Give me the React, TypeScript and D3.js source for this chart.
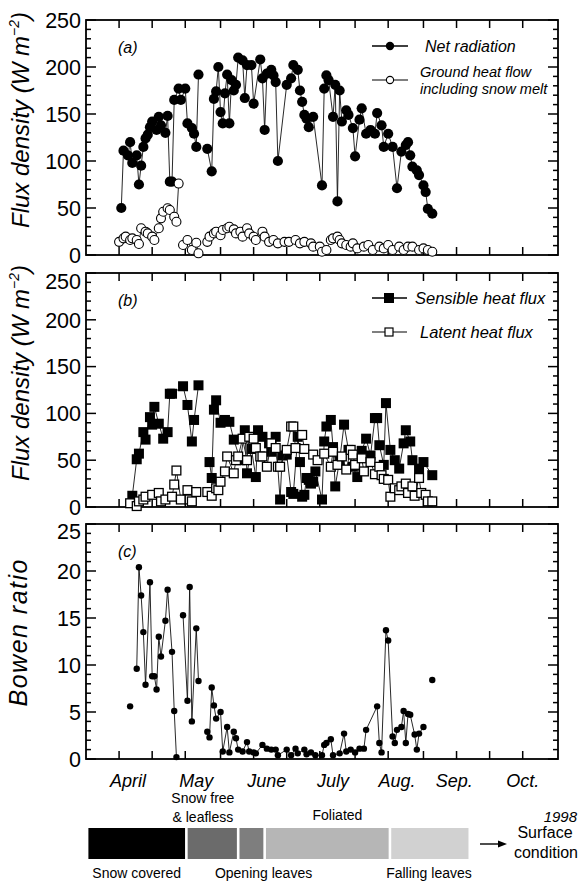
import * as d3 from "d3";

// day of year (1998) -> value; null = break in the record
type Pt = [number, number] | null;

const netRadiation: Pt[] = [
  [107, 50], [108, 111], [110, 106], [111, 120], [112, 98], [114, 106], [115, 75], [116, 95], [117, 115], [118, 124],
  [119, 128], [120, 136], [121, 142], [123, 133], [124, 147], [125, 138], [127, 130], [128, 148], [129, 78], [130, 78],
  [131, 165], [133, 177], [134, 165], [136, 177], [137, 140], [139, 135], [140, 129], [141, 115], [142, 192], null,
  [146, 113], [148, 89], [149, 166], [150, 174], [151, 200], [152, 152], [153, 140], [154, 172], [155, 192], [156, 140],
  [157, 186], [158, 175], [159, 181], [160, 210], [162, 207], [163, 167], [164, 202], [166, 202], [167, 161], [170, 208],
  [171, 188], [172, 133], [173, 193], [175, 197], [176, 191], [177, 184], [178, 100], [182, 181], [184, 188], [185, 202],
  [187, 197], [188, 175], [189, 163], [190, 149], [191, 145], [192, 136], [194, 147], [198, 74], [199, 177], [200, 191],
  [201, 186], [203, 147], [204, 181], [205, 57], [206, 175], [207, 142], [209, 154], [210, 149], [212, 135], [213, 105],
  [215, 144], [216, 156], [218, 129], [220, 133], [222, 129], [223, 151], [225, 138], [226, 115], [228, 129], [230, 115],
  [232, 71], [234, 110], [236, 117], [237, 120], [238, 106], [239, 94], [241, 90], [242, 85], [244, 74], [245, 67],
  [246, 49], [248, 44],
];

const groundHeat: Pt[] = [
  [106, 14], [108, 17.7], [109, 19.5], [111, 16], [112, 17.7], [114, 16], [115, 11.7], [116, 28.4], [118, 24.8], [119, 23],
  [121, 19.5], [122, 16], [124, 28.4], [125, 39], [126, 46], [128, 49.7], [129, 47.9], [131, 40.7], [132, 35.4], [133, 76], null,
  [135, 10.6], [137, 16], [139, 5.3], [141, 13], [142, 1.8], null,
  [146, 14], [147, 19.5], [149, 23], [150, 24.8], [152, 21], [153, 26.6], [155, 28.4], [156, 30], [158, 27.3], [159, 23],
  [161, 24.8], [162, 19.5], [164, 28.4], [165, 23], [167, 19.5], [168, 16], [171, 24.8], [172, 19.5], [174, 14], [176, 16],
  [178, 12.4], [181, 14], [183, 14], [186, 16], [188, 12.4], [190, 14], [193, 12.4], [194, 8.9], [197, 8.9], [198, 3.5],
  [200, 5.3], [202, 16], [203, 17.7], [205, 19.5], [206, 16], [207, 12.4], [209, 10.6], [211, 8.9], [212, 12.4], [214, 7],
  [217, 8.9], [219, 10.6], [221, 5.3], [224, 8.9], [226, 7], [228, 10.6], [230, 5.3], [233, 8.9], [235, 5.3], [237, 8.9],
  [239, 8.9], [242, 5.3], [244, 7], [246, 5.3], [248, 3.5],
];

const sensibleHeat: Pt[] = [
  [112, 12], [114, 51], [115, 57], [117, 80], [118, 72], [120, 96], [121, 88], [122, 107], [124, 89], [126, 73],
  [128, 80], [129, 121], [130, 121], [135, 129], [137, 109], [139, 70], [140, 93], [142, 130], null,
  [147, 48], [148, 31], [149, 104], [150, 114], [152, 90], [154, 93], [156, 91], [158, 72], [161, 50], [163, 82],
  [164, 36], [166, 62], [168, 32], [169, 82], [171, 75], [174, 68], [175, 59], [177, 75], [179, 8], [180, 55],
  [182, 56], [184, 16], [185, 14], [187, 75], [188, 48], [189, 11], [190, 13], [191, 31], [192, 29], [193, 25],
  [194, 27], [195, 38], [198, 8], [199, 70], [200, 86], [202, 93], [203, 64], [204, 22], [206, 50], [208, 88],
  [210, 61], [212, 43], [214, 32], [216, 60], [218, 73], [220, 55], [222, 95], [223, 95], [224, 66], [226, 45],
  [227, 111], [229, 61], [231, 50], [233, 41], [235, 68], [236, 82], [238, 70], [239, 50], [242, 41], [244, 48],
  [248, 34],
];

const latentHeat: Pt[] = [
  [111, 4], [114, 1], [115, 6], [117, 8], [118, 11], [121, 13], [124, 15], [125, 6], [127, 8], [130, 11],
  [131, 24], [132, 39], [134, 8], [137, 18], [138, 8], [139, 6], [141, 16], null,
  [146, 16], [148, 12], [150, 20], [151, 18], [152, 27], [154, 38], [155, 54], [158, 36], [159, 50], [160, 54],
  [162, 73], [164, 50], [165, 75], [167, 73], [168, 63], [170, 54], [171, 54], [173, 43], [175, 68], [177, 63],
  [178, 43], [179, 43], [182, 61], [184, 86], [185, 86], [186, 63], [189, 77], [190, 62], [194, 56], [196, 50],
  [199, 57], [202, 43], [203, 59], [205, 45], [207, 54], [209, 40], [211, 61], [212, 56], [213, 45], [216, 52],
  [217, 38], [220, 48], [222, 35], [224, 43], [225, 34], [226, 30], [228, 29], [229, 11], [231, 20], [233, 18],
  [234, 22], [236, 25], [237, 15], [239, 22], [240, 12], [242, 31], [243, 15], [245, 13], [246, 6], [248, 6],
];

const bowenRatio: Pt[] = [
  [111, 5.6], null,
  [114, 9.6], [115, 20.4], [116, 17.4], [117, 13.5], [118, 7.9], [120, 18.8], [121, 8.8], [122, 8.8], [123, 7.4],
  [124, 13], [125, 10.9], [127, 14.7], [128, 18], [130, 11.4], [131, 5.1], [132, 0.2], null,
  [135, 15.3], [137, 6.2], [138, 18.3], [139, 4], [141, 13.9], [142, 8.3], null,
  [146, 2.9], [147, 2.3], [148, 7.6], [149, 5.7], [150, 4.3], [152, 5], [153, 0.8], [155, 3.4], [156, 0.7], [158, 2.9],
  [159, 2.2], [160, 1], [162, 0.8], [164, 1.8], [165, 0.8], [167, 0.7], [168, 0.6], [171, 1.5], [173, 1.1], [175, 1],
  [177, 1], [178, 0.4], [182, 1], [184, 0.4], [186, 1.1], [187, 0.6], [190, 1], [191, 0.5], [193, 0.7], [195, 0.4],
  [198, 0.4], [199, 1.5], [200, 1.7], [202, 2.1], [203, 0.4], [206, 0.6], [208, 2.7], [209, 0.8], [211, 1], [213, 0.7],
  [215, 1.1], [217, 1.1], [218, 3.1], [223, 5.6], [224, 1.7], [225, 0.7], [227, 13.7], [228, 12.6], [230, 2.4], [231, 1.7],
  [232, 3.1], [234, 3.4], [235, 5.1], [236, 1.7], [237, 4.8], [238, 4.7], [240, 2.6], [241, 1], [242, 2.7], [244, 3.4], null,
  [248, 8.4],
];

// half-month ticks (16th and 1st), and hand placed month names
const monthTicks = [106, 121, 136, 152, 167, 182, 197, 213, 228, 244, 259, 274, 289];
const monthNames = ["April", "May", "June", "July", "Aug.", "Sep.", "Oct."];
const monthNameDays = [110, 141, 173, 203, 232, 258, 289];

const fluxTicks = [0, 50, 100, 150, 200, 250];
const bowenTicks = [0, 5, 10, 15, 20, 25];

const surfaceStages = [
  { start: 91.5, end: 136.5, color: "#000000" },
  { start: 136.5, end: 160, color: "#6b6b6b" },
  { start: 160, end: 172, color: "#7e7e7e" },
  { start: 172, end: 228.8, color: "#b6b6b6" },
  { start: 228.8, end: 265, color: "#d1d1d1" },
];
const stageLabelsAbove = [
  { day: 144, lines: ["Snow free", "& leafless"] },
  { day: 205, lines: ["Foliated"] },
];
const stageLabelsBelow = [
  { day: 114, text: "Snow covered" },
  { day: 171.5, text: "Opening leaves" },
  { day: 246.5, text: "Falling leaves" },
];

const FONT = "'Liberation Sans', Arial, Helvetica, sans-serif";
const X0 = 86;
const X1 = 558;

const x = d3.scaleLinear().domain([91, 305]).range([X0, X1]);
const yA = d3.scaleLinear().domain([0, 250]).range([255, 20]);
const yB = d3.scaleLinear().domain([0, 250]).range([507, 273]);
const yC = d3.scaleLinear().domain([0, 25]).range([759, 524]);

const pts = (s: Pt[]) => s.filter((d): d is [number, number] => d !== null);
const linePath = (s: Pt[], y: d3.ScaleLinear<number, number>) =>
  d3
    .line<Pt>()
    .defined((d) => d !== null)
    .x((d) => x((d as [number, number])[0]))
    .y((d) => y((d as [number, number])[1]))(s) || "";

function Frame({ y, majors, minorStep, label, topShift }: { y: d3.ScaleLinear<number, number>; majors: number[]; minorStep: number; label: string; topShift: number }) {
  const [bottom, top] = y.range();
  const [d0, d1] = y.domain();
  const minors = d3.range(d0, d1 + 1e-9, minorStep).filter((v) => !majors.includes(v));
  return (
    <g stroke="#000" strokeWidth={1.5}>
      {minors.map((v) => (
        <g key={"m" + v}>
          <line x1={X0} x2={X0 + 5} y1={y(v)} y2={y(v)} />
          <line x1={X1} x2={X1 - 5} y1={y(v)} y2={y(v)} />
        </g>
      ))}
      {majors.map((v) => (
        <g key={"M" + v}>
          <line x1={X0} x2={X0 + 10} y1={y(v)} y2={y(v)} />
          <line x1={X1} x2={X1 - 10} y1={y(v)} y2={y(v)} />
          <text x={81} y={y(v) + (v === d1 ? topShift : 0)} dy="0.36em" textAnchor="end" stroke="none" fontSize={21.5} fontFamily={FONT}>
            {v}
          </text>
        </g>
      ))}
      {monthTicks.map((d) => (
        <g key={"t" + d}>
          <line x1={x(d)} x2={x(d)} y1={bottom} y2={bottom - 8} />
          <line x1={x(d)} x2={x(d)} y1={top} y2={top + 8} />
        </g>
      ))}
      <rect x={X0} y={top} width={X1 - X0} height={bottom - top} fill="none" strokeWidth={1.8} />
      <text x={118} y={top + 33} stroke="none" fontSize={16} fontStyle="italic" fontFamily={FONT}>
        {label}
      </text>
    </g>
  );
}

export default function App() {
  const lineStyle = { fill: "none", stroke: "#111", strokeWidth: 0.9 };
  return (
    <svg width={579} height={882} viewBox="0 0 579 882" style={{ position: "absolute", left: 0, top: 0, background: "#fff" }} fontFamily={FONT}>
      <rect width={579} height={882} fill="#fff" />

      {/* (a) radiation and ground heat */}
      <Frame y={yA} majors={fluxTicks} minorStep={10} label="(a)" topShift={0} />
      <path d={linePath(netRadiation, yA)} {...lineStyle} />
      <path d={linePath(groundHeat, yA)} {...lineStyle} />
      {pts(netRadiation).map((d, i) => (
        <circle key={"n" + i} cx={x(d[0])} cy={yA(d[1])} r={5.1} fill="#000" />
      ))}
      {pts(groundHeat).map((d, i) => (
        <circle key={"g" + i} cx={x(d[0])} cy={yA(d[1])} r={4.5} fill="#fff" stroke="#000" strokeWidth={1.1} />
      ))}
      <g fontStyle="italic">
        <line x1={372} x2={408} y1={46} y2={46} stroke="#000" strokeWidth={1.5} />
        <circle cx={390} cy={46} r={4.2} fill="#000" />
        <text x={425} y={52} fontSize={16}>Net radiation</text>
        <line x1={372} x2={408} y1={80} y2={80} stroke="#000" strokeWidth={1.2} />
        <circle cx={390} cy={80} r={3.6} fill="#fff" stroke="#000" strokeWidth={1.1} />
        <text x={420} y={77} fontSize={14.6}>Ground heat flow</text>
        <text x={420} y={94} fontSize={14.6}>including snow melt</text>
      </g>
      <text transform="translate(29,120) rotate(-90)" textAnchor="middle" fontSize={24} fontStyle="italic">
        Flux density (W m<tspan fontSize={14} dy={-10}>−2</tspan><tspan dy={10}>)</tspan>
      </text>

      {/* (b) sensible and latent heat */}
      <Frame y={yB} majors={fluxTicks} minorStep={10} label="(b)" topShift={8} />
      <path d={linePath(sensibleHeat, yB)} {...lineStyle} />
      {pts(sensibleHeat).map((d, i) => (
        <rect key={"s" + i} x={x(d[0]) - 5} y={yB(d[1]) - 5} width={10} height={10} fill="#000" />
      ))}
      <path d={linePath(latentHeat, yB)} {...lineStyle} />
      {pts(latentHeat).map((d, i) => (
        <rect key={"l" + i} x={x(d[0]) - 4.4} y={yB(d[1]) - 4.4} width={8.8} height={8.8} fill="#fff" stroke="#000" strokeWidth={1.3} />
      ))}
      <g fontStyle="italic">
        <line x1={372} x2={407} y1={298} y2={298} stroke="#000" strokeWidth={1.6} />
        <rect x={384} y={293} width={10} height={10} fill="#000" />
        <text x={415} y={304} fontSize={16.5}>Sensible heat flux</text>
        <line x1={372} x2={407} y1={332} y2={332} stroke="#000" strokeWidth={1.2} />
        <rect x={385} y={328} width={8} height={8} fill="#fff" stroke="#000" strokeWidth={1.2} />
        <text x={420} y={338} fontSize={16.5}>Latent heat flux</text>
      </g>
      <text transform="translate(29,373) rotate(-90)" textAnchor="middle" fontSize={24} fontStyle="italic">
        Flux density (W m<tspan fontSize={14} dy={-10}>−2</tspan><tspan dy={10}>)</tspan>
      </text>

      {/* (c) Bowen ratio */}
      <Frame y={yC} majors={bowenTicks} minorStep={1} label="(c)" topShift={7} />
      <path d={linePath(bowenRatio, yC)} {...lineStyle} />
      {pts(bowenRatio).map((d, i) => (
        <circle key={"b" + i} cx={x(d[0])} cy={yC(d[1])} r={3.2} fill="#000" />
      ))}
      <text transform="translate(27,633) rotate(-90)" textAnchor="middle" fontSize={25} fontStyle="italic" textLength={147} lengthAdjust="spacing">
        Bowen ratio
      </text>

      {/* months */}
      {monthNames.map((m, i) => (
        <text key={m} x={x(monthNameDays[i])} y={787} textAnchor="middle" fontSize={18} fontStyle="italic">
          {m}
        </text>
      ))}
      <text x={577} y={822} textAnchor="end" fontSize={15} fontStyle="italic">1998</text>

      {/* surface condition bar */}
      {surfaceStages.map((s, i) => (
        <rect key={"st" + i} x={x(s.start) + 1.3} y={828} width={x(s.end) - x(s.start) - 2.6} height={31} fill={s.color} />
      ))}
      {stageLabelsAbove.map((l) =>
        l.lines.map((t, j) => (
          <text key={t} x={x(l.day)} y={l.lines.length === 1 ? 820 : 803 + j * 19} textAnchor="middle" fontSize={14}>
            {t}
          </text>
        ))
      )}
      {stageLabelsBelow.map((l) => (
        <text key={l.text} x={x(l.day)} y={878} textAnchor="middle" fontSize={14}>
          {l.text}
        </text>
      ))}
      <line x1={480} x2={500} y1={844} y2={844} stroke="#000" strokeWidth={1.4} />
      <path d="M507,844 L498,840.5 L498,847.5 Z" fill="#000" />
      <text x={545} y={838} textAnchor="middle" fontSize={16}>Surface</text>
      <text x={546} y={858} textAnchor="middle" fontSize={16}>condition</text>
    </svg>
  );
}
